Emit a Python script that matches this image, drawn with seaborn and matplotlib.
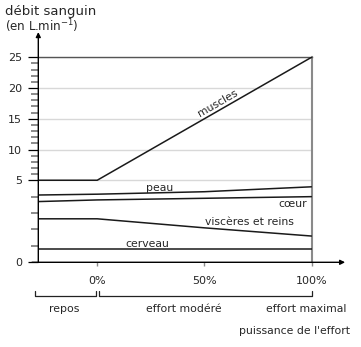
import numpy as np
import pandas as pd
import matplotlib
matplotlib.use("Agg")
import matplotlib.pyplot as plt
import matplotlib.transforms as mtransforms
from matplotlib.ticker import FixedLocator
import seaborn as sns

# Puissance de l'effort (%) ; la valeur négative correspond au repos
effort = [-27.5, 0, 50, 100]
muscles = [5.0, 5.0, 15.0, 25.0]
peau = [4.1, 4.15, 4.3, 4.6]
coeur = [3.7, 3.8, 3.9, 4.0]
visceres_reins = [2.65, 2.65, 2.1, 1.6]
cerveau = [0.8, 0.8, 0.8, 0.8]

y_major = [0, 5, 10, 15, 20, 25]
y_minor = [1, 2, 3, 4] + [v for v in range(6, 25) if v % 5]
x_ticks = [0, 50, 100]
x_ticklabels = ["0%", "50%", "100%"]

organes = {
    "muscles": muscles,
    "peau": peau,
    "cœur": coeur,
    "viscères et reins": visceres_reins,
    "cerveau": cerveau,
}
df = pd.DataFrame(
    [(x, nom, v) for nom, vals in organes.items() for x, v in zip(effort, vals)],
    columns=["effort", "organe", "debit"],
)

sns.set_style("white")
plt.rcParams["font.family"] = ["DejaVu Sans"]
plt.rcParams["mathtext.default"] = "regular"

fig = plt.figure(figsize=(3.61, 3.47), dpi=100)
ax = fig.add_axes([38.3 / 361, 84.7 / 347, 273.2 / 361, 205 / 347])

# Échelle dilatée sous 5 L/min
K = 2.67


def fwd(y):
    y = np.asarray(y, float)
    return np.where(y <= 5, y * K, 5 * K + (y - 5))


def inv(t):
    t = np.asarray(t, float)
    return np.where(t <= 5 * K, t / K, t - 5 * K + 5)


ax.set_yscale("function", functions=(fwd, inv))

sns.lineplot(
    data=df, x="effort", y="debit", hue="organe",
    palette={k: "#1a1a1a" for k in organes}, legend=False,
    linewidth=1.1, ax=ax, zorder=3, estimator=None, sort=False,
)

ax.set_xlim(-27.5, 100)
ax.set_ylim(0, 25)
ax.set_xlabel("")
ax.set_ylabel("")

ax.yaxis.set_major_locator(FixedLocator(y_major))
ax.yaxis.set_minor_locator(FixedLocator(y_minor))
ax.set_yticklabels([str(v) for v in y_major])
ax.set_xticks(x_ticks)
ax.set_xticklabels(x_ticklabels)
ax.xaxis.set_minor_locator(FixedLocator([]))

ax.tick_params(axis="y", which="major", direction="out", length=7.2, width=0.9,
               color="black", pad=4.3, labelsize=8, left=True)
ax.tick_params(axis="y", which="minor", direction="out", length=5, width=1.4,
               color="#8a8a8a", left=True)
ax.tick_params(axis="x", which="major", direction="out", length=3, width=1,
               color="#8a8a8a", pad=7, labelsize=8, bottom=True)

ax.grid(axis="y", which="major", color="#d8d8d8", linewidth=1)
ax.grid(axis="x", visible=False)
ax.set_axisbelow(True)

for side in ("left", "bottom"):
    ax.spines[side].set_visible(False)
ax.spines["top"].set_color("#555555")
ax.spines["top"].set_linewidth(1)
ax.spines["right"].set_color("#8a8a8a")
ax.spines["right"].set_linewidth(1.5)

# Axes fléchés
arrow = dict(arrowstyle="-|>", color="black", lw=1, mutation_scale=7,
             shrinkA=0, shrinkB=0)
ax.annotate("", xy=(0, 1.123), xytext=(0, 0), xycoords="axes fraction",
            textcoords="axes fraction", arrowprops=arrow, zorder=5)
ax.annotate("", xy=(1.123, 0), xytext=(-0.023, 0), xycoords="axes fraction",
            textcoords="axes fraction", arrowprops=arrow, zorder=5)

# Étiquettes des courbes
fs = 7.8
ax.text(56.3, 17.6, "muscles", rotation=30, rotation_mode="anchor",
        ha="center", va="center", fontsize=fs)
ax.text(29.2, 4.53, "peau", ha="center", va="center", fontsize=fs)
ax.text(91.2, 3.55, "cœur", ha="center", va="center", fontsize=fs)
ax.text(71.2, 2.46, "viscères et reins", ha="center", va="center", fontsize=fs)
ax.text(23.6, 1.12, "cerveau", ha="center", va="center", fontsize=fs)

# Accolades sous l'axe des abscisses
bt = mtransforms.blended_transform_factory(ax.transData, ax.transAxes)
for x0, x1 in [(-29.1, -0.6), (0.8, 100.2)]:
    ax.plot([x0, x0, x1, x1], [-0.1385, -0.1644, -0.1644, -0.1385],
            color="#222222", lw=0.9, transform=bt, clip_on=False)

ax.text(-15.5, -0.2293, "repos", transform=bt, ha="center", va="center", fontsize=fs)
ax.text(40.4, -0.2293, "effort modéré", transform=bt, ha="center", va="center", fontsize=fs)
ax.text(97.3, -0.2293, "effort maximal", transform=bt, ha="center", va="center", fontsize=fs)
ax.text(92, -0.3366, "puissance de l'effort", transform=bt, ha="center", va="center", fontsize=fs)

# Titre de l'axe des ordonnées, sur deux lignes
fig.text(5 / 361, 1 - 15.5 / 347, "débit sanguin", ha="left", va="baseline", fontsize=9.5)
fig.text(5 / 361, 1 - 31 / 347, "(en L.min$^{-1}$)", ha="left", va="baseline", fontsize=8.6)

fig.savefig("out.png", dpi=100)
